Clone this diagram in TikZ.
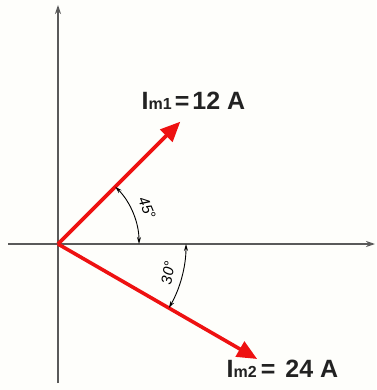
\documentclass[tikz,border=0pt]{standalone}
\usepackage{fontspec}
\setmainfont{Liberation Sans}
\usetikzlibrary{arrows.meta,calc}
\definecolor{bg}{HTML}{FEFEFB}
\definecolor{axisgray}{HTML}{5A5A5A}
\definecolor{vred}{HTML}{EE1111}
\definecolor{txt}{HTML}{222222}
\tikzset{
  axisline/.style={draw=axisgray, line width=1.4pt, -{Stealth[length=9pt,width=6pt]}},
  phasor/.style={draw=vred, line width=3.6pt, -{Triangle[length=20pt,width=17pt]}},
  anglearc/.style={draw=black, line width=0.9pt, {Stealth[length=7pt,width=4pt]}-{Stealth[length=7pt,width=4pt]}},
  anglelabel/.style={font=\fontsize{15}{15}\selectfont\itshape, inner sep=0pt},
  biglabel/.style={font=\fontsize{25}{25}\selectfont\bfseries, text=txt, inner sep=0pt, anchor=base west}
}
\newcommand{\subm}[1]{{\fontsize{16}{16}\selectfont #1}}
\begin{document}
\begin{tikzpicture}[x=1pt,y=-1pt]
\fill[bg] (0,0) rectangle (376,390);
\useasboundingbox (0,0) rectangle (376,390);
\coordinate (O) at (58,244);
\coordinate (ytop) at (58,5);
\coordinate (ybot) at (58,383);
\coordinate (xleft) at (8,244);
\coordinate (xright) at (375,244);
\draw[axisline] (ybot) -- (ytop);
\draw[axisline] (xleft) -- (xright);
% phasors (y axis points down, so angles are mirrored)
\coordinate (T1) at ($(O)+(-45:173)$);
\coordinate (T2) at ($(O)+(30:230)$);
\draw[phasor] (O) -- (T1);
\draw[phasor] (O) -- (T2);
% angle arcs
\coordinate (A1) at ($(O)+(-45:81)$);
\coordinate (A2) at ($(O)+(0:81)$);
\draw[anglearc] (A1) arc[start angle=-45, end angle=0, radius=81];
\coordinate (B1) at ($(O)+(0:128)$);
\coordinate (B2) at ($(O)+(30:128)$);
\draw[anglearc] (B1) arc[start angle=0, end angle=30, radius=128];
\node[anglelabel, rotate=-67.5] (l45) at (147,208) {45°};
\node[anglelabel, rotate=80] (l30) at (168,273) {30°};
% magnitude labels
\node[biglabel] (im1) at (141.5,109.3) {I\subm{m1}\kern3pt=\kern3pt12 A};
\node[biglabel] (im2) at (226.5,377) {I\subm{m2}\kern4pt=\kern10pt24 A};
\end{tikzpicture}
\end{document}
